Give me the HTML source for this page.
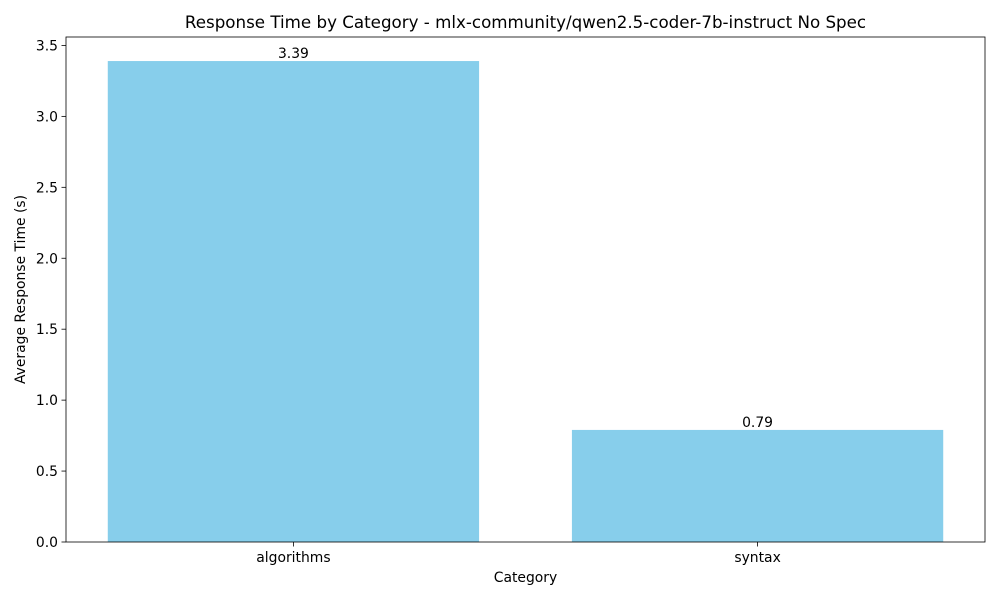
<!DOCTYPE html>
<html><head><meta charset="utf-8"><style>
body{margin:0;background:#fff;font-family:"Liberation Sans","DejaVu Sans",sans-serif;}
svg text{font-family:"DejaVu Sans","Liberation Sans",sans-serif;}
</style></head><body>
<svg id="chart" width="1000" height="600"></svg>
<script>
const categories = ["algorithms", "syntax"];
const values = [3.39, 0.79];
const valueLabels = ["3.39", "0.79"];
const yTicks = [0.0, 0.5, 1.0, 1.5, 2.0, 2.5, 3.0, 3.5];
const yTickLabels = ["0.0", "0.5", "1.0", "1.5", "2.0", "2.5", "3.0", "3.5"];

const NS = "http://www.w3.org/2000/svg";
const svg = document.getElementById("chart");
const L = 66, R = 985, T = 37, B = 542;
const FS = 13.9;
const ymax = Math.max(...values) * 1.05;
const xmin = -0.49, xmax = categories.length - 1 + 0.49;
const y = v => B - (v / ymax) * (B - T);
const x = v => L + (v - xmin) / (xmax - xmin) * (R - L);
function mk(tag, attrs, parent) {
  const e = document.createElementNS(NS, tag);
  for (const k in attrs) e.setAttribute(k, attrs[k]);
  (parent || svg).appendChild(e);
  return e;
}
const title = mk("text", {x: (L + R) / 2, y: 28, "text-anchor": "middle", "font-size": 16.7, fill: "#000"});


title.textContent = "Response Time by Category - mlx-community/qwen2.5-coder-7b-instruct No Spec";

categories.forEach((c, i) => {
  const bw = 0.8 * (R - L) / (xmax - xmin);
  const r = mk("rect", {x: x(i) - bw / 2, y: y(values[i]), width: bw, height: B - y(values[i]), fill: "#87ceeb"});
  
  
  const t = mk("text", {x: x(i), y: y(values[i]) - 3, "text-anchor": "middle", "font-size": FS, fill: "#000"});
  
  
  t.textContent = valueLabels[i];
  mk("line", {x1: x(i), x2: x(i), y1: B, y2: B + 4.5, stroke: "#000", "stroke-width": 0.8});
  const xl = mk("text", {x: x(i), y: B + 20, "text-anchor": "middle", "font-size": FS, fill: "#000"});
  
  
  xl.textContent = c;
});
yTicks.forEach((v, i) => {
  mk("line", {x1: L - 4.5, x2: L, y1: y(v), y2: y(v), stroke: "#000", "stroke-width": 0.8});
  const t = mk("text", {x: L - 8, y: y(v) + 5, "text-anchor": "end", "font-size": FS, fill: "#000"});
  
  
  t.textContent = yTickLabels[i];
});
const frame = mk("rect", {x: L, y: T, width: R - L, height: B - T, fill: "none", stroke: "#000", "stroke-width": 0.8});


const xt = mk("text", {x: (L + R) / 2, y: 582, "text-anchor": "middle", "font-size": FS, fill: "#000"});


xt.textContent = "Category";
const yt = mk("text", {x: 25, y: (T + B) / 2, "text-anchor": "middle", "font-size": FS, fill: "#000", transform: "rotate(-90 25 " + ((T + B) / 2) + ")"});


yt.textContent = "Average Response Time (s)";
</script>
</body></html>
